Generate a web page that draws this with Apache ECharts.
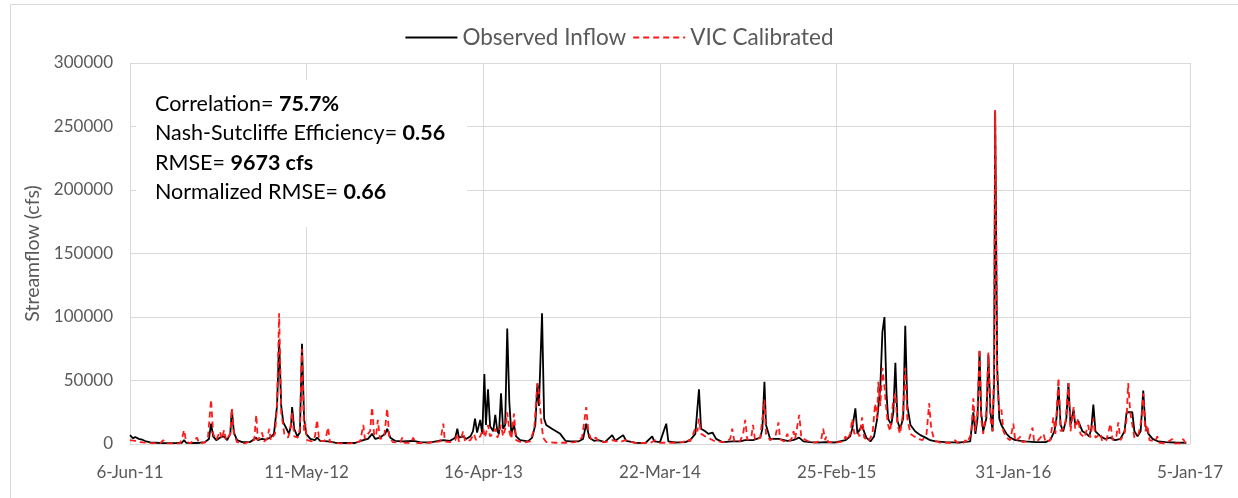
<!DOCTYPE html>
<html>
<head>
<meta charset="utf-8">
<script src="https://cdn.jsdelivr.net/npm/echarts@6/dist/echarts.min.js"></script>
<style>
  html, body { margin: 0; padding: 0; background: #fff; }
  #chart { width: 1238px; height: 498px; }
</style>
</head>
<body>
<div id="chart"></div>
<script>
// x values are days since 6-Jun-2011; y values are streamflow in cfs
const tickStepDays = 340;
const tickLabels = ['6-Jun-11', '11-May-12', '16-Apr-13', '22-Mar-14', '25-Feb-15', '31-Jan-16', '5-Jan-17'];

const observedInflow = [
  [0,7000],[2,6000],[6,4500],[10,5500],[13,6500],[17,4000],[23,3500],[31,2000],[39,1200],[58,800],
  [87,700],[100,1000],[104,3000],[108,1000],[125,800],[135,1000],[144,1500],[152,4000],[156,16000],[160,6000],
  [166,3000],[173,5000],[181,6000],[187,3000],[193,8000],[196,27000],[200,9000],[206,3000],[216,1500],[231,1500],
  [243,5000],[246,3000],[254,4000],[262,3500],[270,5000],[277,8000],[283,30000],[287,82000],[291,30000],[295,17000],
  [300,13000],[306,8000],[310,15000],[312,29000],[316,12000],[322,6000],[327,9000],[331,79000],[335,20000],[339,8000],
  [347,4000],[356,3000],[360,5000],[366,2500],[381,2000],[395,1000],[414,800],[433,800],[449,3000],[458,4000],
  [466,8000],[472,4000],[481,5000],[491,8000],[495,12000],[501,5000],[510,2500],[524,2000],[545,2500],[558,1500],
  [578,1200],[603,3000],[616,2500],[626,5000],[630,12000],[633,5000],[641,6000],[647,4000],[655,6000],[660,10000],
  [664,20000],[668,9000],[674,19000],[678,8000],[682,55000],[685,15000],[689,43000],[693,14000],[699,10000],[703,23000],
  [707,10000],[710,8000],[714,40000],[718,12000],[722,15000],[726,91000],[730,33000],[734,8000],[739,15000],[743,6000],
  [751,3000],[766,2000],[774,5000],[780,15000],[784,47000],[787,30000],[793,103000],[797,20000],[801,15000],[812,12000],
  [828,8000],[838,2500],[847,2000],[863,2000],[872,4000],[878,16000],[884,5000],[893,2500],[901,3000],[914,1500],
  [928,7000],[934,2500],[949,7000],[955,2500],[972,1000],[992,800],[1005,6000],[1009,2000],[1020,1500],[1032,16000],
  [1036,2000],[1049,1200],[1069,1500],[1078,3000],[1088,8000],[1095,43000],[1099,12000],[1107,10000],[1113,8000],[1121,9000],
  [1128,4000],[1140,1500],[1159,2000],[1174,2000],[1184,3000],[1199,3000],[1213,5000],[1217,12000],[1221,49000],[1224,15000],
  [1232,4000],[1248,4000],[1265,2500],[1276,3000],[1288,5000],[1296,2000],[1309,1500],[1328,1200],[1340,1500],[1357,1200],
  [1377,3000],[1386,6000],[1390,12000],[1396,28000],[1400,8000],[1405,12000],[1409,14000],[1417,5000],[1425,2000],[1432,6000],
  [1438,20000],[1444,45000],[1448,88000],[1452,100000],[1456,40000],[1459,20000],[1465,15000],[1469,25000],[1473,64000],[1477,18000],
  [1482,12000],[1488,20000],[1492,93000],[1496,30000],[1502,15000],[1511,10000],[1521,7000],[1531,5000],[1540,3000],[1550,2000],
  [1569,1500],[1598,1200],[1617,2000],[1623,25000],[1627,8000],[1631,20000],[1635,73000],[1638,25000],[1642,10000],[1648,20000],
  [1652,70000],[1656,25000],[1660,10000],[1663,50000],[1665,262000],[1669,60000],[1673,20000],[1677,15000],[1681,12000],[1687,8000],
  [1694,5000],[1704,3000],[1723,2000],[1742,1500],[1762,1500],[1771,3000],[1779,10000],[1783,20000],[1787,45000],[1791,15000],
  [1796,10000],[1802,20000],[1806,48000],[1810,15000],[1816,27000],[1819,15000],[1825,18000],[1833,10000],[1841,8000],[1846,6000],
  [1850,12000],[1854,31000],[1858,10000],[1868,6000],[1877,4000],[1887,5000],[1896,3000],[1906,4000],[1914,10000],[1918,25000],
  [1929,25000],[1933,10000],[1939,6000],[1945,10000],[1950,42000],[1954,15000],[1960,8000],[1968,4000],[1979,2000],[1993,1500],
  [2012,1200],[2033,1000]
];

const vicCalibrated = [
  [0,3000],[10,2500],[19,1500],[39,800],[58,500],[64,3000],[69,500],[96,500],[100,4000],[104,11000],
  [108,2000],[116,500],[129,5000],[133,500],[144,1000],[150,5000],[156,35000],[160,8000],[166,3000],[169,6000],
  [173,10000],[177,4000],[181,11000],[185,3000],[193,8000],[196,28000],[200,8000],[206,1500],[221,500],[239,3000],
  [243,23000],[246,3000],[254,9000],[258,2000],[264,4000],[268,12000],[271,3000],[279,8000],[283,30000],[287,103000],
  [291,25000],[297,8000],[304,5000],[308,10000],[312,25000],[316,6000],[323,5000],[327,12000],[331,75000],[335,10000],
  [337,16000],[341,3000],[350,2000],[356,6000],[360,19000],[364,3000],[374,2000],[377,5000],[381,13000],[385,1500],
  [404,500],[424,500],[443,2000],[449,15000],[452,4000],[458,8000],[462,10000],[466,29000],[470,6000],[474,8000],
  [477,19000],[481,4000],[489,5000],[495,28000],[499,5000],[506,1500],[520,1000],[524,5000],[528,1000],[541,1000],
  [545,5000],[549,800],[568,800],[597,2000],[603,16000],[606,2000],[616,1500],[626,3000],[630,8000],[633,2000],
  [637,4000],[641,10000],[645,2000],[655,3000],[662,8000],[666,3000],[674,6000],[680,12000],[683,5000],[689,15000],
  [693,6000],[699,8000],[703,12000],[707,5000],[710,8000],[714,15000],[718,6000],[722,12000],[726,25000],[730,10000],
  [734,4000],[739,24000],[743,3000],[755,1000],[770,2000],[778,12000],[784,48000],[787,40000],[791,20000],[795,5000],
  [801,1500],[818,1000],[838,1000],[857,1500],[870,5000],[878,29000],[882,10000],[888,3000],[897,5000],[901,2000],
  [914,1500],[928,3000],[943,1500],[953,3000],[972,800],[1001,800],[1011,3000],[1020,1000],[1036,1000],[1051,1000],
  [1065,1500],[1072,4000],[1078,2000],[1084,8000],[1088,13000],[1092,10000],[1095,20000],[1099,8000],[1107,6000],[1117,4000],
  [1126,2000],[1146,1500],[1155,4000],[1159,12000],[1163,2000],[1174,2000],[1180,8000],[1184,19000],[1188,3000],[1196,6000],
  [1199,15000],[1203,3000],[1213,5000],[1217,20000],[1221,35000],[1224,8000],[1232,3000],[1242,6000],[1248,17000],[1251,4000],
  [1259,2000],[1265,8000],[1269,2000],[1274,5000],[1277,10000],[1280,4000],[1288,23000],[1292,5000],[1301,3000],[1309,1500],
  [1319,1000],[1330,3000],[1334,12000],[1338,3000],[1340,6000],[1344,1500],[1357,1000],[1373,2000],[1377,6000],[1380,3000],
  [1386,8000],[1390,20000],[1394,8000],[1400,10000],[1404,6000],[1409,21000],[1413,5000],[1421,2000],[1429,8000],[1434,32000],
  [1438,20000],[1440,49000],[1444,30000],[1448,60000],[1452,45000],[1456,25000],[1459,15000],[1463,10000],[1469,35000],[1473,40000],
  [1477,15000],[1482,8000],[1488,25000],[1492,60000],[1496,20000],[1502,8000],[1509,6000],[1517,4000],[1525,3000],[1533,8000],
  [1538,32000],[1542,12000],[1548,3000],[1559,1000],[1579,1000],[1588,3000],[1592,1000],[1604,1000],[1608,3000],[1611,1000],
  [1619,8000],[1623,36000],[1627,10000],[1631,25000],[1635,75000],[1638,20000],[1642,8000],[1648,25000],[1652,72000],[1656,20000],
  [1660,10000],[1663,60000],[1665,263000],[1669,50000],[1673,25000],[1677,27000],[1681,10000],[1687,5000],[1694,3000],[1700,16000],
  [1704,2000],[1714,6000],[1717,1500],[1729,2000],[1737,13000],[1740,2000],[1748,3000],[1758,8000],[1762,1500],[1771,3000],
  [1777,21000],[1781,8000],[1787,52000],[1791,10000],[1796,12000],[1800,15000],[1806,48000],[1810,10000],[1816,29000],[1819,12000],
  [1825,20000],[1829,8000],[1837,5000],[1844,15000],[1848,5000],[1854,20000],[1858,5000],[1868,8000],[1871,2000],[1879,3000],
  [1887,16000],[1891,3000],[1898,5000],[1902,17000],[1906,3000],[1914,8000],[1918,20000],[1921,48000],[1925,25000],[1929,15000],
  [1933,5000],[1941,8000],[1947,20000],[1950,40000],[1954,10000],[1958,15000],[1962,3000],[1973,2000],[1977,6000],[1981,1000],
  [1993,500],[2006,4000],[2010,500],[2022,500],[2027,4000],[2031,500]
];

// goodness-of-fit summary shown in the upper-left box
const statNames = ['Correlation= ', 'Nash-Sutcliffe Efficiency= ', 'RMSE= ', 'Normalized RMSE= '];
const statValues = ['75.7%', '0.56', '9673 cfs', '0.66'];

const FONT = 'Lato';
const GREY = '#595959';
const GRID = '#d9d9d9';
const OBS_COLOR = '#000000';
const VIC_COLOR = '#ff1a1a';

const chart = echarts.init(document.getElementById('chart'), null, { renderer: 'canvas' });

const statText = statNames.map((name, i) => ({
  type: 'text',
  z: 20,
  silent: true,
  style: {
    x: 155,
    y: 104 + i * 29.5,
    verticalAlign: 'middle',
    text: '{n|' + name + '}{b|' + statValues[i] + '}',
    rich: {
      n: { fontFamily: FONT, fontSize: 21.5, color: '#000' },
      b: { fontFamily: FONT, fontSize: 21.5, color: '#000', fontWeight: 'bold' }
    }
  }
}));

chart.setOption({
  animation: false,
  backgroundColor: '#fff',
  textStyle: { fontFamily: FONT },
  grid: { left: 130, right: 48, top: 63, bottom: 54, containLabel: false },
  legend: {
    data: ['Observed Inflow', 'VIC Calibrated'],
    left: 'center',
    top: 21,
    itemWidth: 52,
    itemHeight: 14,
    itemGap: 6,
    itemStyle: { opacity: 0 },
    textStyle: { color: GREY, fontSize: 22.5, fontFamily: FONT }
  },
  xAxis: {
    type: 'value',
    min: 0,
    max: tickStepDays * (tickLabels.length - 1),
    interval: tickStepDays,
    axisLine: { show: true, lineStyle: { color: GRID, width: 1 } },
    axisTick: { show: false },
    splitLine: { show: true, showMinLine: true, showMaxLine: true, lineStyle: { color: GRID, width: 1 } },
    axisLabel: {
      color: GREY,
      fontSize: 17,
      margin: 20,
      formatter: v => tickLabels[Math.round(v / tickStepDays)]
    }
  },
  yAxis: {
    type: 'value',
    min: 0,
    max: 300000,
    interval: 50000,
    name: 'Streamflow (cfs)',
    nameLocation: 'middle',
    nameGap: 73,
    nameTextStyle: { color: GREY, fontSize: 19.5, fontFamily: FONT },
    axisLine: { show: false },
    axisTick: { show: false },
    splitLine: { show: true, lineStyle: { color: GRID, width: 1 } },
    axisLabel: { color: GREY, fontSize: 17, margin: 17, formatter: v => String(v) }
  },
  graphic: [
    {
      type: 'rect', z: -1, silent: true,
      shape: { x: 10.5, y: 4.5, width: 1260, height: 520 },
      style: { fill: 'none', stroke: GRID, lineWidth: 1 }
    },
    {
      type: 'rect', z: 15, silent: true,
      shape: { x: 136, y: 80, width: 331, height: 147 },
      style: { fill: '#fff' }
    }
  ].concat(statText),
  series: [
    {
      name: 'Observed Inflow',
      type: 'line',
      data: observedInflow,
      symbol: 'none',
      z: 2,
      lineStyle: { color: OBS_COLOR, width: 1.8 },
      itemStyle: { color: OBS_COLOR }
    },
    {
      name: 'VIC Calibrated',
      type: 'line',
      data: vicCalibrated,
      symbol: 'none',
      z: 3,
      lineStyle: { color: VIC_COLOR, width: 1.8, type: [6, 4] },
      itemStyle: { color: VIC_COLOR }
    }
  ]
});
</script>
</body>
</html>
